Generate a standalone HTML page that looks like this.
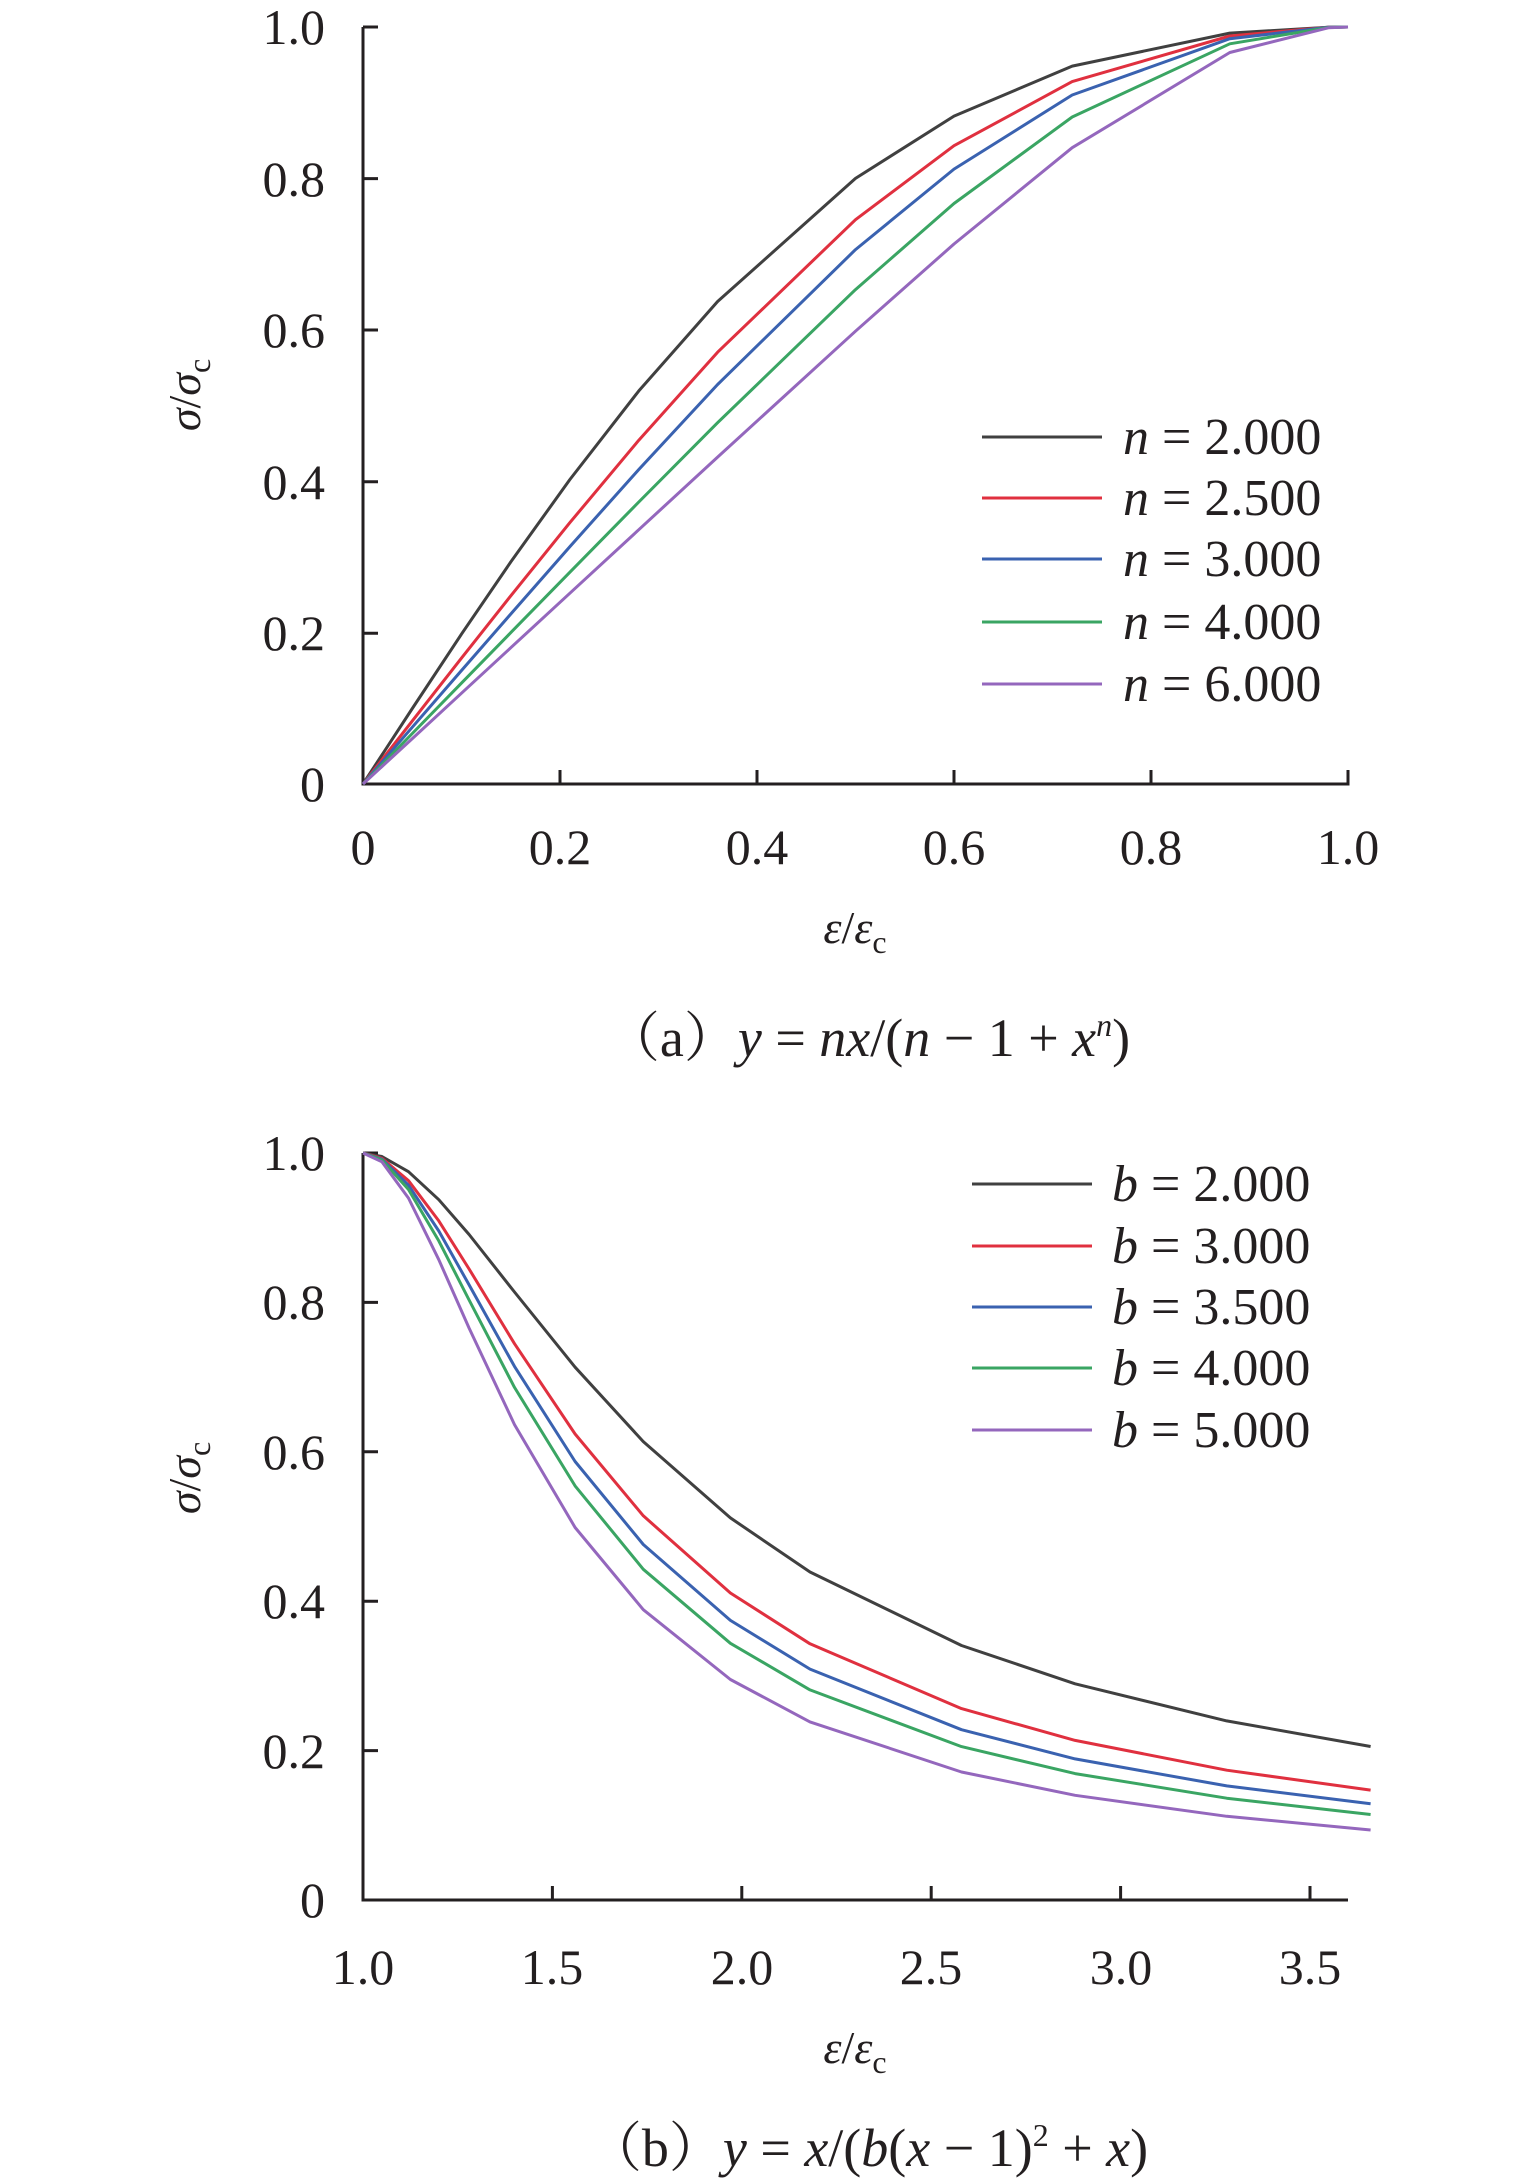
<!DOCTYPE html>
<html><head><meta charset="utf-8"><style>
html,body{margin:0;padding:0;background:#fff;}
svg{display:block;}
text{font-family:"Liberation Serif","Times New Roman","Noto Serif CJK SC",serif;}
</style></head><body>
<svg id="s" width="1535" height="2182" viewBox="0 0 1535 2182" xmlns="http://www.w3.org/2000/svg">
<g fill="#231f20" font-size="50" font-family="Liberation Serif, Noto Serif CJK SC, serif">
<!-- Chart A axes -->
<path d="M363,27 H378 M363,27 V784 H1348 V770" stroke="#231f20" stroke-width="3" fill="none"/>
<path d="M363,178.6 H378 M363,330 H378 M363,481.8 H378 M363,633.2 H378 M560,784 V770 M757,784 V770 M954,784 V770 M1151,784 V770" stroke="#231f20" stroke-width="3"/>
<g text-anchor="end">
<text x="325" y="44">1.0</text><text x="325" y="196">0.8</text><text x="325" y="347">0.6</text><text x="325" y="499">0.4</text><text x="325" y="650">0.2</text><text x="325" y="801">0</text>
</g>
<g text-anchor="middle">
<text x="363" y="864">0</text><text x="560" y="864">0.2</text><text x="757" y="864">0.4</text><text x="954" y="864">0.6</text><text x="1151" y="864">0.8</text><text x="1348" y="864">1.0</text>
<text x="855" y="943" font-size="46"><tspan font-style="italic">ε</tspan>/<tspan font-style="italic">ε</tspan><tspan font-size="32" dy="10">c</tspan></text>
<text x="868" y="1056" font-size="54">（a）<tspan font-style="italic">y</tspan> = <tspan font-style="italic">nx</tspan>/(<tspan font-style="italic">n</tspan> − 1 + <tspan font-style="italic">x</tspan><tspan font-style="italic" font-size="32" dy="-20">n</tspan><tspan dy="20">)</tspan></text>
</g>
<text transform="translate(200,395) rotate(-90)" text-anchor="middle" font-size="46"><tspan font-style="italic">σ</tspan>/<tspan font-style="italic">σ</tspan><tspan font-size="32" dy="10">c</tspan></text>

<!-- Chart B axes -->
<path d="M363,1153 H378 M363,1153 V1900 H1348" stroke="#231f20" stroke-width="3" fill="none"/>
<path d="M363,1750.6 H378 M363,1601.2 H378 M363,1451.8 H378 M363,1302.4 H378 M552.4,1900 V1886 M741.8,1900 V1886 M931.2,1900 V1886 M1120.6,1900 V1886 M1310,1900 V1886" stroke="#231f20" stroke-width="3"/>
<g text-anchor="end">
<text x="325" y="1170">1.0</text><text x="325" y="1319">0.8</text><text x="325" y="1469">0.6</text><text x="325" y="1618">0.4</text><text x="325" y="1768">0.2</text><text x="325" y="1917">0</text>
</g>
<g text-anchor="middle">
<text x="363" y="1984">1.0</text><text x="552" y="1984">1.5</text><text x="742" y="1984">2.0</text><text x="931" y="1984">2.5</text><text x="1121" y="1984">3.0</text><text x="1310" y="1984">3.5</text>
<text x="855" y="2063" font-size="46"><tspan font-style="italic">ε</tspan>/<tspan font-style="italic">ε</tspan><tspan font-size="32" dy="10">c</tspan></text>
<text x="868" y="2166" font-size="54">（b）<tspan font-style="italic">y</tspan> = <tspan font-style="italic">x</tspan>/(<tspan font-style="italic">b</tspan>(<tspan font-style="italic">x</tspan> − 1)<tspan font-size="32" dy="-20">2</tspan><tspan dy="20"> + </tspan><tspan font-style="italic">x</tspan>)</text>
</g>
<text transform="translate(200,1478) rotate(-90)" text-anchor="middle" font-size="46"><tspan font-style="italic">σ</tspan>/<tspan font-style="italic">σ</tspan><tspan font-size="32" dy="10">c</tspan></text>
</g>
<g id="curves" fill="none" stroke-width="3" stroke-linejoin="round"></g>
<g id="leg" font-size="52" fill="#231f20" font-family="Liberation Serif, serif"></g>
</svg>
<script>
var cols=["#404040","#e0303f","#3a62b0","#3aa563","#9467bd"];
var g=document.getElementById("curves"),L=document.getElementById("leg");
var NS="http://www.w3.org/2000/svg";
function pl(pts,c){var p=document.createElementNS(NS,"polyline");p.setAttribute("points",pts.join(" "));p.setAttribute("stroke",c);g.appendChild(p);}
function ln(x1,x2,y,c){var p=document.createElementNS(NS,"line");p.setAttribute("x1",x1);p.setAttribute("x2",x2);p.setAttribute("y1",y);p.setAttribute("y2",y);p.setAttribute("stroke",c);p.setAttribute("stroke-width",3);L.appendChild(p);}
function tx(x,y,v,s){var t=document.createElementNS(NS,"text");t.setAttribute("x",x);t.setAttribute("y",y+17);t.innerHTML='<tspan font-style="italic">'+v+'</tspan> = '+s;L.appendChild(t);}
var xa=[0,0.05,0.1,0.15,0.21,0.28,0.36,0.5,0.6,0.72,0.88,0.98,1.0];
var ns=[2,2.5,3,4,6],nl=["2.000","2.500","3.000","4.000","6.000"];
var ly=[437,498,559,622,684];
ns.forEach(function(n,i){var pts=xa.map(function(x){var y=n*x/(n-1+Math.pow(x,n));return (363+x*985).toFixed(1)+","+(784-y*757).toFixed(1);});pl(pts,cols[i]);ln(982,1102,ly[i],cols[i]);tx(1123,ly[i],"n",nl[i]);});
var xb=[1,1.05,1.12,1.2,1.28,1.4,1.56,1.74,1.97,2.18,2.58,2.88,3.28,3.66];
var bs=[2,3,3.5,4,5],bl=["2.000","3.000","3.500","4.000","5.000"];
var by=[1184,1246,1307,1368,1430];
bs.forEach(function(b,i){var pts=xb.map(function(x){var y=x/(b*(x-1)*(x-1)+x);return (363+(x-1)*378.8).toFixed(1)+","+(1900-y*747).toFixed(1);});pl(pts,cols[i]);ln(972,1092,by[i],cols[i]);tx(1112,by[i],"b",bl[i]);});
</script>
</body></html>
